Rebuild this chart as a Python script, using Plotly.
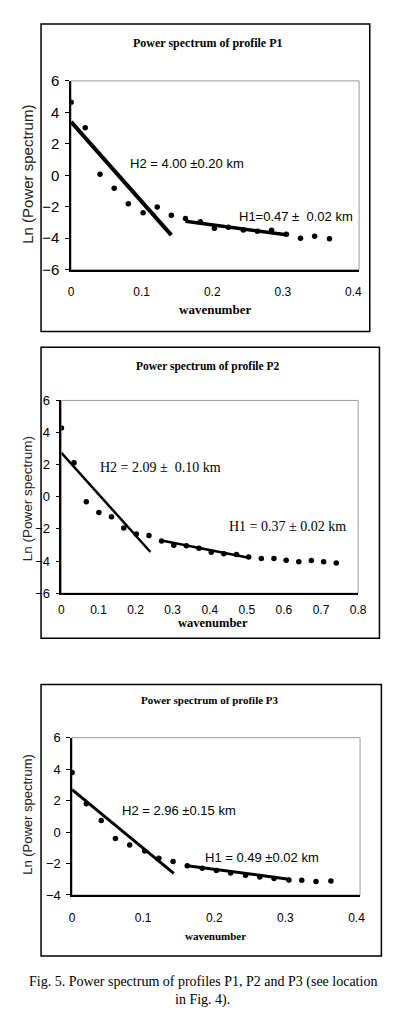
import plotly.graph_objects as go

W, H = 395, 1010

# ---------------- data ----------------
p1_x = [0, 0.02, 0.041, 0.061, 0.081, 0.102, 0.122, 0.142, 0.162, 0.183,
        0.203, 0.223, 0.244, 0.264, 0.284, 0.305, 0.325, 0.345, 0.366]
p1_y = [4.65, 3.02, 0.06, -0.82, -1.81, -2.38, -2.02, -2.54, -2.75, -2.95,
        -3.37, -3.3, -3.48, -3.55, -3.5, -3.75, -4.0, -3.87, -4.04]
p1_h2_x = [0, 0.142]
p1_h2_y = [3.4, -3.8]
p1_h1_x = [0.162, 0.305]
p1_h1_y = [-2.92, -3.78]

p2_x = [0, 0.034, 0.067, 0.101, 0.135, 0.168, 0.202, 0.236, 0.27, 0.303,
        0.337, 0.371, 0.404, 0.438, 0.472, 0.505, 0.539, 0.573, 0.606, 0.64,
        0.674, 0.707, 0.741]
p2_y = [4.29, 2.12, -0.31, -0.98, -1.25, -1.94, -2.31, -2.41, -2.76, -3.02,
        -3.05, -3.2, -3.45, -3.55, -3.6, -3.75, -3.85, -3.85, -3.95, -4.05,
        -3.96, -4.05, -4.12]
p2_h2_x = [0, 0.24]
p2_h2_y = [2.74, -3.44]
p2_h1_x = [0.27, 0.505]
p2_h1_y = [-2.72, -3.8]

p3_x = [0, 0.02, 0.041, 0.061, 0.081, 0.102, 0.122, 0.142, 0.162, 0.183,
        0.203, 0.223, 0.244, 0.264, 0.284, 0.305, 0.323, 0.343, 0.364]
p3_y = [3.78, 1.8, 0.73, -0.41, -0.83, -1.2, -1.66, -1.87, -2.14, -2.3,
        -2.45, -2.6, -2.75, -2.85, -2.95, -3.05, -3.07, -3.15, -3.11]
p3_h2_x = [0, 0.143]
p3_h2_y = [2.7, -2.63]
p3_h1_x = [0.162, 0.305]
p3_h1_y = [-2.14, -3.0]

titles = ["Power spectrum of profile P1", "Power spectrum of profile P2",
          "Power spectrum of profile P3"]
p1_xticks = [0, 0.1, 0.2, 0.3, 0.4]
p2_xticks = [0, 0.1, 0.2, 0.3, 0.4, 0.5, 0.6, 0.7, 0.8]
p3_xticks = [0, 0.1, 0.2, 0.3, 0.4]
p1_yticks = [-6, -4, -2, 0, 2, 4, 6]
p2_yticks = [-6, -4, -2, 0, 2, 4, 6]
p3_yticks = [-4, -2, 0, 2, 4, 6]
caption = ["Fig. 5. Power spectrum of profiles P1, P2 and P3 (see location",
           "in Fig. 4)."]

# ---------------- helpers ----------------
def px(x):
    return x / W

def py(y):
    return 1 - y / H

SANS = "Arial, Liberation Sans, sans-serif"
SERIF = "Times New Roman, Liberation Serif, serif"

fig = go.Figure()

panels = [
    dict(x=p1_x, y=p1_y, h2=(p1_h2_x, p1_h2_y), h1=(p1_h1_x, p1_h1_y),
         w2=4, w1=3.5, ax="x", ay="y"),
    dict(x=p2_x, y=p2_y, h2=(p2_h2_x, p2_h2_y), h1=(p2_h1_x, p2_h1_y),
         w2=2.5, w1=2.5, ax="x2", ay="y2"),
    dict(x=p3_x, y=p3_y, h2=(p3_h2_x, p3_h2_y), h1=(p3_h1_x, p3_h1_y),
         w2=3, w1=3, ax="x3", ay="y3"),
]

for p in panels:
    fig.add_trace(go.Scatter(x=p["h2"][0], y=p["h2"][1], mode="lines",
                             line=dict(color="black", width=p["w2"]),
                             xaxis=p["ax"], yaxis=p["ay"], showlegend=False))
    fig.add_trace(go.Scatter(x=p["h1"][0], y=p["h1"][1], mode="lines",
                             line=dict(color="black", width=p["w1"]),
                             xaxis=p["ax"], yaxis=p["ay"], showlegend=False))
    fig.add_trace(go.Scatter(x=p["x"], y=p["y"], mode="markers",
                             marker=dict(color="black", size=5.5),
                             xaxis=p["ax"], yaxis=p["ay"], showlegend=False))

axcfg = [
    dict(xd=(62, 359), yd=(65, 257), xr=[0, 0.408], yr=[-6, 6],
         xt=p1_xticks, yt=p1_yticks, xfs=12, yfs=15, stand=10),
    dict(xd=(52, 358), yd=(390, 586), xr=[0, 0.8], yr=[-6, 6],
         xt=p2_xticks, yt=p2_yticks, xfs=12, yfs=13, stand=5),
    dict(xd=(63, 360), yd=(733, 893), xr=[0, 0.405], yr=[-4, 6],
         xt=p3_xticks, yt=p3_yticks, xfs=12, yfs=13, stand=11),
]

layout = dict(width=W, height=H, margin=dict(l=0, r=0, t=0, b=0),
              paper_bgcolor="white", plot_bgcolor="white", showlegend=False)

for i, c in enumerate(axcfg):
    sfx = "" if i == 0 else str(i + 1)
    layout["xaxis" + sfx] = dict(
        domain=[px(c["xd"][0]), px(c["xd"][1])], range=c["xr"],
        anchor="y" + sfx, tickvals=c["xt"], ticktext=[f"{v:g}" for v in c["xt"]],
        showgrid=False, zeroline=False, showline=True, linecolor="black",
        linewidth=1.5, ticks="", ticklabelstandoff=c["stand"],
        tickfont=dict(family=SANS, size=c["xfs"], color="black"))
    layout["yaxis" + sfx] = dict(
        domain=[py(c["yd"][1]), py(c["yd"][0])], range=c["yr"],
        anchor="x" + sfx, tickvals=c["yt"], showgrid=False, zeroline=False,
        showline=True, linecolor="black", linewidth=1.5, ticks="outside",
        ticklen=4, tickcolor="black", ticklabelstandoff=3,
        tickfont=dict(family=SANS, size=c["yfs"], color="black"))

fig.update_layout(**layout)

shapes = []
for (x0, y0, x1, y1) in [(31, 7, 370, 320), (31, 336, 380, 632), (31, 679, 382, 955)]:
    shapes.append(dict(type="rect", xref="paper", yref="paper",
                       x0=px(x0), x1=px(x1), y0=py(y1), y1=py(y0),
                       line=dict(color="black", width=1.5), layer="below"))
for sfx in ["", "2", "3"]:
    shapes.append(dict(type="rect", xref=f"x{sfx} domain", yref=f"y{sfx} domain",
                       x0=0, x1=1, y0=0, y1=1,
                       line=dict(color="#9a9a9a", width=1), layer="below"))
fig.update_layout(shapes=shapes)

ann = []
for (t, cx, cy, fs) in [(titles[0], 203, 26, 12), (titles[1], 203, 355, 11.5),
                        (titles[2], 205, 695, 11)]:
    ann.append(dict(text=f"<b>{t}</b>", x=px(cx), y=py(cy), xref="paper", yref="paper",
                    showarrow=False, xanchor="center", yanchor="middle",
                    font=dict(family=SERIF, size=fs, color="black")))
for (cx, cy, fs) in [(210, 297, 13), (208, 616, 12.5), (211, 935, 11)]:
    ann.append(dict(text="<b>wavenumber</b>", x=px(cx), y=py(cy), xref="paper",
                    yref="paper", showarrow=False, xanchor="center", yanchor="middle",
                    font=dict(family=SERIF, size=fs, color="black")))
for (cx, cy, fs) in [(17, 160, 15), (17, 490, 13.5), (17, 811, 13)]:
    ann.append(dict(text="Ln (Power spectrum)", x=px(cx), y=py(cy), xref="paper",
                    yref="paper", showarrow=False, textangle=-90,
                    xanchor="center", yanchor="middle",
                    font=dict(family=SANS, size=fs, color="#222222")))
fits = [
    ("H2 = 4.00 ±0.20 km", 0.08, 0.75, "x", "y", SANS, 13),
    ("H1=0.47 ±  0.02 km", 0.235, -2.6, "x", "y", SANS, 13),
    ("H2 = 2.09 ±  0.10 km", 0.099, 1.8, "x2", "y2", SERIF, 14),
    ("H1 = 0.37 ± 0.02 km", 0.446, -1.88, "x2", "y2", SERIF, 14),
    ("H2 = 2.96 ±0.15 km", 0.067, 1.37, "x3", "y3", SANS, 13),
    ("H1 = 0.49 ±0.02 km", 0.184, -1.62, "x3", "y3", SANS, 13),
]
for (t, x, y, xr, yr, fam, fs) in fits:
    ann.append(dict(text=t, x=x, y=y, xref=xr, yref=yr, showarrow=False,
                    xanchor="left", yanchor="middle",
                    font=dict(family=fam, size=fs, color="black")))
for (t, cy) in [(caption[0], 982), (caption[1], 1000)]:
    ann.append(dict(text=t, x=0.5, y=py(cy), xref="paper", yref="paper",
                    showarrow=False, xanchor="center", yanchor="middle",
                    font=dict(family=SERIF, size=14, color="black")))
fig.update_layout(annotations=ann)

fig.write_html("out.html")
